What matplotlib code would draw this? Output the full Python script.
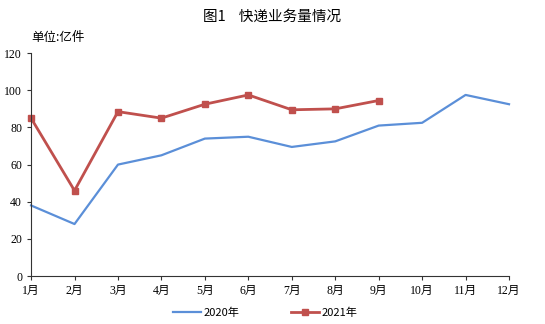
import matplotlib.pyplot as plt

plt.rcParams['font.family'] = ['Liberation Serif', 'Noto Sans CJK SC']

months = ["1月", "2月", "3月", "4月", "5月", "6月", "7月", "8月", "9月", "10月", "11月", "12月"]
y2020 = [38, 28, 60, 65, 74, 75, 69.5, 72.5, 81, 82.5, 97.5, 92.5]
y2021 = [85, 46, 88.5, 85, 92.5, 97.5, 89.5, 90, 94.5]

fig = plt.figure(figsize=(5.45, 3.24), dpi=100)
ax = fig.add_axes([0.057, 0.148, 0.877, 0.688])

x1 = list(range(len(y2020)))
x2 = list(range(len(y2021)))
ax.plot(x1, y2020, color="#5B8FD8", lw=1.6, label="2020年")
ax.plot(x2, y2021, color="#C0504D", lw=2, marker="s", ms=5, label="2021年")

ax.set_xlim(0, 11)
ax.set_ylim(0, 120)
ax.set_yticks(range(0, 121, 20))
ax.set_xticks(x1)
ax.set_xticklabels(months)
ax.tick_params(labelsize=8.5, length=3, width=0.8, color="#333333")
ax.spines["top"].set_visible(False)
ax.spines["right"].set_visible(False)
for s in ["left", "bottom"]:
    ax.spines[s].set_color("#333333")
    ax.spines[s].set_linewidth(0.8)
for ln in ax.lines:
    ln.set_clip_on(False)

fig.text(0.5, 0.947, "图1    快递业务量情况", ha="center", va="center",
         fontsize=10.5, family=["Noto Sans CJK SC"])
fig.text(0.057, 0.885, "单位:亿件", ha="left", va="center", fontsize=9,
         family=["Noto Sans CJK SC"])

leg = ax.legend(loc="upper center", bbox_to_anchor=(0.49, -0.095), ncol=2,
                frameon=False, handlelength=2.5, columnspacing=4.6,
                handletextpad=0.3,
                prop={"family": ["Noto Sans CJK SC"], "size": 8})

fig.savefig("out.png", dpi=100)
